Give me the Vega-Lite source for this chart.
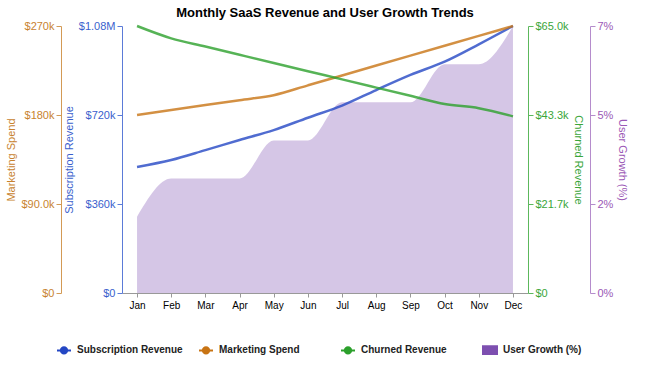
{
  "$schema": "https://vega.github.io/schema/vega-lite/v6.json",
  "width": 406,
  "height": 267,
  "autosize": {"type": "none"},
  "padding": {"left": 122, "top": 26, "right": 122, "bottom": 73},
  "background": "white",
  "title": {
    "text": "Monthly SaaS Revenue and User Growth Trends",
    "font": "Liberation Sans, Arial, sans-serif",
    "fontSize": 13,
    "fontWeight": "bold",
    "color": "#000000",
    "anchor": "middle",
    "offset": 0
  },
  "config": {
    "font": "Liberation Sans, Arial, sans-serif",
    "view": {"stroke": null},
    "axis": {"grid": false, "labelFontSize": 11, "titleFontSize": 11, "titleFontWeight": "normal", "tickSize": 5}
  },
  "data": {
    "values": [
      {"month": "Jan", "sub": 510000, "mkt": 180000, "churn": 65000, "growth": 2.0},
      {"month": "Feb", "sub": 538000, "mkt": 185000, "churn": 62000, "growth": 3.0},
      {"month": "Mar", "sub": 578000, "mkt": 190000, "churn": 60000, "growth": 3.0},
      {"month": "Apr", "sub": 619000, "mkt": 195000, "churn": 58000, "growth": 3.0},
      {"month": "May", "sub": 659000, "mkt": 200000, "churn": 56000, "growth": 4.0},
      {"month": "Jun", "sub": 709000, "mkt": 210000, "churn": 54000, "growth": 4.0},
      {"month": "Jul", "sub": 758000, "mkt": 220000, "churn": 52000, "growth": 5.0},
      {"month": "Aug", "sub": 821000, "mkt": 230000, "churn": 50000, "growth": 5.0},
      {"month": "Sep", "sub": 882000, "mkt": 240000, "churn": 48000, "growth": 5.0},
      {"month": "Oct", "sub": 936000, "mkt": 250000, "churn": 46000, "growth": 6.0},
      {"month": "Nov", "sub": 1006000, "mkt": 260000, "churn": 45000, "growth": 6.0},
      {"month": "Dec", "sub": 1080000, "mkt": 270000, "churn": 43000, "growth": 7.0}
    ]
  },
  "encoding": {
    "x": {
      "field": "month",
      "type": "ordinal",
      "sort": null,
      "scale": {"type": "point", "padding": 0.44},
      "axis": {"title": null, "labelAngle": 0, "labelFontSize": 10, "labelColor": "#000000", "domainColor": "#999999", "tickColor": "#999999", "tickSize": 4, "labelPadding": 3}
    },
    "color": {
      "scale": {
        "domain": ["Subscription Revenue", "Marketing Spend", "Churned Revenue", "User Growth (%)"],
        "range": ["#2447c4", "#c87414", "#2ca02c", "#7d4fb0"]
      },
      "legend": {
        "title": null,
        "orient": "none",
        "legendX": -66,
        "legendY": 316,
        "direction": "horizontal",
        "columns": 4,
        "gridAlign": "all",
        "columnPadding": 12,
        "labelFont": "Liberation Sans, Arial, sans-serif",
        "labelFontSize": 10,
        "labelFontWeight": "bold",
        "labelColor": "#222222",
        "labelLimit": 200,
        "symbolSize": 196,
        "symbolStrokeWidth": 2,
        "symbolOpacity": 1,
        "symbolFillOpacity": 1,
        "symbolStrokeOpacity": 1,
        "labelOffset": 5,
        "encode": {
          "symbols": {
            "update": {
              "shape": {"signal": "datum.value === 'User Growth (%)' ? 'M-1,-0.55H1V0.55H-1Z' : 'M-1,0H1M-0.45,0A0.45,0.45,0,1,0,0.45,0A0.45,0.45,0,1,0,-0.45,0Z'"},
              "fill": {"scale": "color", "field": "value"},
              "stroke": {"signal": "datum.value === 'User Growth (%)' ? 'transparent' : scale('color', datum.value)"},
              "opacity": {"value": 1},
              "fillOpacity": {"value": 1},
              "strokeWidth": {"value": 2}
            }
          }
        }
      }
    }
  },
  "layer": [
    {
      "mark": {"type": "area", "interpolate": "monotone", "fillOpacity": 0.32},
      "encoding": {
        "y": {
          "field": "growth", "type": "quantitative",
          "scale": {"domain": [0, 7]},
          "axis": {
            "orient": "right", "offset": 62, "title": "User Growth (%)",
            "values": [0, 2.3333333, 4.6666667, 7],
            "labelExpr": "format(datum.value, '.0f') + '%'",
            "labelColor": "#9b59b6", "titleColor": "#9b59b6", "domainColor": "#b58ccc", "tickColor": "#b58ccc"
          }
        },
        "color": {"datum": "User Growth (%)"}
      }
    },
    {
      "mark": {"type": "line", "interpolate": "monotone", "strokeWidth": 2.5, "opacity": 0.8},
      "encoding": {
        "y": {
          "field": "sub", "type": "quantitative",
          "scale": {"domain": [0, 1080000]},
          "axis": {
            "orient": "left", "offset": 0, "title": "Subscription Revenue",
            "values": [0, 360000, 720000, 1080000],
            "labelExpr": "datum.value == 0 ? '$0' : '$' + format(datum.value, '.3s')",
            "labelColor": "#3a5fcd", "titleColor": "#3a5fcd", "domainColor": "#5b7bd8", "tickColor": "#5b7bd8"
          }
        },
        "color": {"datum": "Subscription Revenue"}
      }
    },
    {
      "mark": {"type": "line", "interpolate": "monotone", "strokeWidth": 2.5, "opacity": 0.8},
      "encoding": {
        "y": {
          "field": "mkt", "type": "quantitative",
          "scale": {"domain": [0, 270000]},
          "axis": {
            "orient": "left", "offset": 61, "title": "Marketing Spend",
            "values": [0, 90000, 180000, 270000],
            "labelExpr": "datum.value == 0 ? '$0' : '$' + format(datum.value, '.3s')",
            "labelColor": "#c8832f", "titleColor": "#c8832f", "domainColor": "#d39a55", "tickColor": "#d39a55"
          }
        },
        "color": {"datum": "Marketing Spend"}
      }
    },
    {
      "mark": {"type": "line", "interpolate": "monotone", "strokeWidth": 2.5, "opacity": 0.8},
      "encoding": {
        "y": {
          "field": "churn", "type": "quantitative",
          "scale": {"domain": [0, 65000]},
          "axis": {
            "orient": "right", "offset": 0, "title": "Churned Revenue",
            "values": [0, 21666.667, 43333.333, 65000],
            "labelExpr": "datum.value == 0 ? '$0' : '$' + format(datum.value, '.3s')",
            "labelColor": "#3aa63a", "titleColor": "#3aa63a", "domainColor": "#5cb85c", "tickColor": "#5cb85c"
          }
        },
        "color": {"datum": "Churned Revenue"}
      }
    }
  ],
  "resolve": {"scale": {"y": "independent"}, "axis": {"y": "independent"}}
}
